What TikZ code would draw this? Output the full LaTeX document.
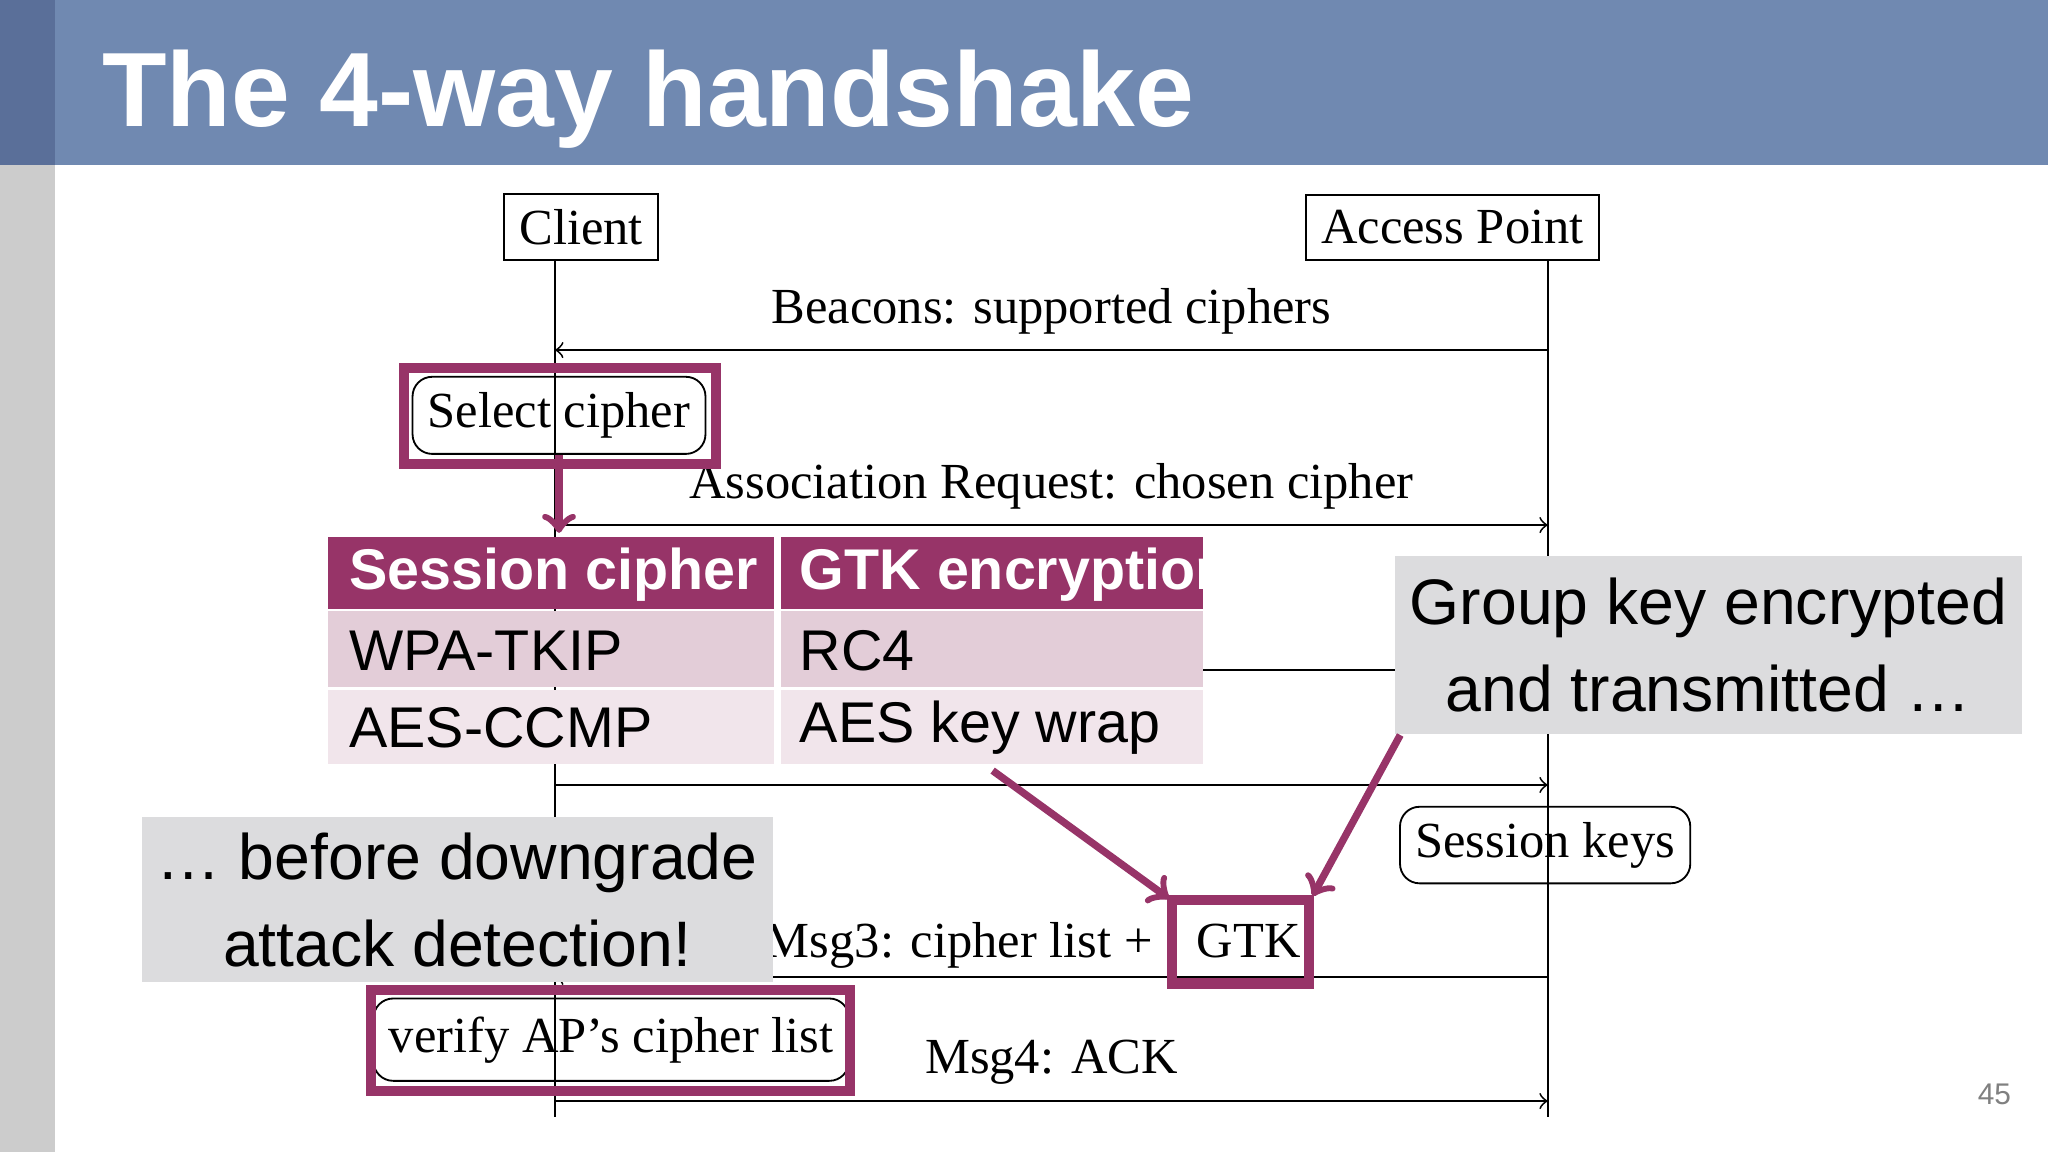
\documentclass[tikz,border=0pt]{standalone}
\usepackage{fontspec}
\setmainfont{Liberation Serif}
\newfontfamily\sans{Liberation Sans}
\definecolor{plum}{HTML}{973468}
\definecolor{band}{HTML}{7089B1}
\definecolor{bandd}{HTML}{5A6F99}
\definecolor{rowa}{HTML}{E3CDD8}
\definecolor{rowb}{HTML}{F1E5EB}
\definecolor{note}{HTML}{DCDCDE}
\tikzset{
  actor/.style={rectangle, draw, thin, minimum height=5mm, font=\fontsize{11}{13}\selectfont},
  action/.style={rectangle, draw, rounded corners=1.5mm, thin, font=\fontsize{11}{13}\selectfont},
  msg/.style={font=\fontsize{11}{13}\selectfont},
  cell/.style={anchor=west, font=\sans\fontsize{12.5}{14}\selectfont},
  callout/.style={fill=note, align=center, font=\sans\fontsize{14}{19}\selectfont},
  hilite/.style={plum, line width=1.6pt},
}
\begin{document}
\begin{tikzpicture}[x=0.01cm, y=-0.01cm]
    \useasboundingbox (0,0) rectangle (1568,882);
    % slide frame
    \fill[gray!40] (0,0) rectangle (42,882);
    \fill[band] (42,0) rectangle (1568,126);
    \fill[bandd] (0,0) rectangle (42,126);
    \node[anchor=west, text=white, font=\sans\bfseries\fontsize{23}{26}\selectfont] (T) at (66,76) {The 4-way handshake};
    \node[text=gray, font=\sans\fontsize{6.5}{8}\selectfont] (P) at (1527,838) {45};
    % actors and lifelines
    \node[actor, minimum width=11.5mm] (C) at (445,174) {Client};
    \node[actor, minimum width=21.5mm] (A) at (1112,174) {Access Point};
    \coordinate (c1) at (425,268);  \coordinate (a1) at (1185,268);
    \coordinate (c2) at (425,402);  \coordinate (a2) at (1185,402);
    \coordinate (c3) at (425,601);  \coordinate (a3) at (1185,601);
    \coordinate (c4) at (425,748);  \coordinate (a4) at (1185,748);
    \coordinate (c5) at (425,843);  \coordinate (a5) at (1185,843);
    \coordinate (m1) at (921,513);  \coordinate (n1) at (1078,513);
    \draw (C.south -| c1) -- (425,855);
    \draw (A.south -| a1) -- (1185,855);
    % messages
    \draw[->] (a1) -- (c1) node[msg, midway, above] {Beacons: supported ciphers};
    \draw[->] (c2) -- (a2) node[msg, midway, above] {Association Request: chosen cipher};
    \draw (m1) -- (n1);
    \draw[->] (c3) -- (a3);
    \draw[->] (a4) -- (c4);
    \draw[->] (c5) -- (a5) node[msg, midway, above] {Msg4: ACK};
    \node[msg, anchor=base east] (M3) at (895,733) {Msg3: cipher list +};
    \node[msg, anchor=base west, inner sep=1pt] (G) at (912,733) {GTK};
    \draw[hilite, line width=2.2pt] (897,689) rectangle (1002,753);
    % steps
    \node[action, minimum width=21.5mm, minimum height=5.9mm] (S) at (428,318) {Select cipher};
    \draw[hilite, line width=2.2pt] (309,282) rectangle (548,355);
    \node[action, minimum width=21.3mm, minimum height=5.7mm] (K) at (1183,647) {Session keys};
    \node[action, minimum width=34.9mm, minimum height=6.3mm] (V) at (468,796) {verify AP's cipher list};
    \draw[hilite, line width=2.2pt] (284,758) rectangle (651,835);
    % cipher table
    \fill[plum] (251,411) rectangle (921,466);
    \fill[rowa] (251,468) rectangle (921,526);
    \fill[rowb] (251,528) rectangle (921,585);
    \draw[white, line width=1.5pt] (595,411) -- (595,585);
    \node[cell, text=white, font=\sans\bfseries\fontsize{12.5}{14}\selectfont] (h1) at (255,440) {Session cipher};
    \node[cell, text=white, font=\sans\bfseries\fontsize{12.5}{14}\selectfont] (h2) at (600,440) {GTK encryption};
    \node[cell] (r1) at (255,498) {WPA-TKIP};
    \node[cell] (r2) at (600,498) {RC4};
    \node[cell] (r3) at (255,557) {AES-CCMP};
    \node[cell] (r4) at (600,557) {AES key wrap};
    \draw[->, hilite] (S.south) -- (428,408);
    % callouts
    \node[callout, minimum width=46.3mm, minimum height=13.6mm] (N1) at (1308,494) {Group key encrypted\\and transmitted \dots};
    \node[callout, minimum width=46.3mm, minimum height=12.3mm] (N2) at (350,689) {\dots\ before downgrade\\attack detection!};
    \draw[->, hilite] (760,590) -- (895,688);
    \draw[->, hilite] (N1.south west) ++(5,0) -- (1005,686);
\end{tikzpicture}
\end{document}
